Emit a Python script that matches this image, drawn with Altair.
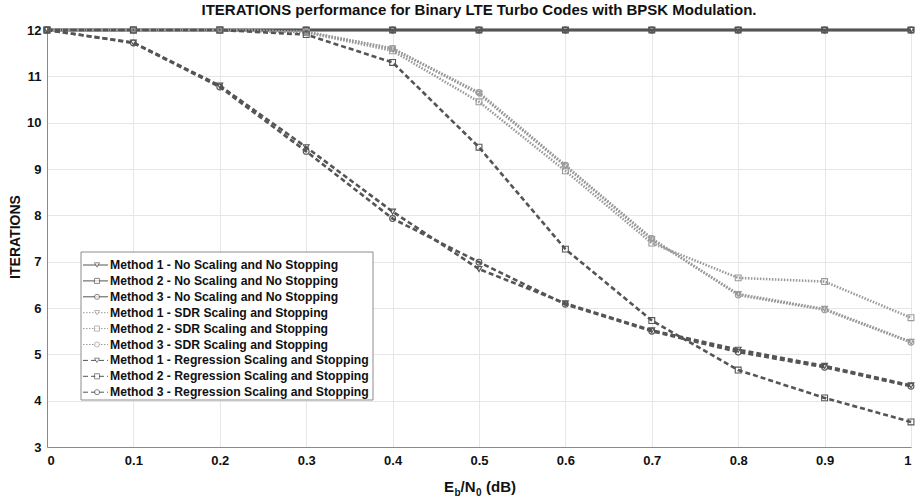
import altair as alt
import pandas as pd

# ---------------- data ----------------
ebn0 = [0.0, 0.1, 0.2, 0.3, 0.4, 0.5, 0.6, 0.7, 0.8, 0.9, 1.0]

series_names = [
    "Method 1 - No Scaling and No Stopping",
    "Method 2 - No Scaling and No Stopping",
    "Method 3 - No Scaling and No Stopping",
    "Method 1 - SDR Scaling and Stopping",
    "Method 2 - SDR Scaling and Stopping",
    "Method 3 - SDR Scaling and Stopping",
    "Method 1 - Regression Scaling and Stopping",
    "Method 2 - Regression Scaling and Stopping",
    "Method 3 - Regression Scaling and Stopping",
]

m1_none = [12, 12, 12, 12, 12, 12, 12, 12, 12, 12, 12]
m2_none = [12, 12, 12, 12, 12, 12, 12, 12, 12, 12, 12]
m3_none = [12, 12, 12, 12, 12, 12, 12, 12, 12, 12, 12]
m1_sdr = [12, 12, 12, 11.96, 11.6, 10.62, 9.06, 7.48, 6.3, 5.98, 5.27]
m2_sdr = [12, 12, 12, 11.95, 11.55, 10.45, 8.96, 7.4, 6.65, 6.57, 5.79]
m3_sdr = [12, 12, 12, 11.96, 11.6, 10.65, 9.08, 7.5, 6.28, 5.96, 5.26]
m1_reg = [12, 11.73, 10.8, 9.47, 8.08, 6.84, 6.1, 5.52, 5.1, 4.75, 4.33]
m2_reg = [12, 12, 12, 11.9, 11.3, 9.47, 7.27, 5.73, 4.66, 4.06, 3.54]
m3_reg = [12, 11.72, 10.77, 9.38, 7.93, 6.99, 6.08, 5.5, 5.05, 4.72, 4.31]

all_series = [m1_none, m2_none, m3_none, m1_sdr, m2_sdr, m3_sdr, m1_reg, m2_reg, m3_reg]

rows = []
for k, (name, vals) in enumerate(zip(series_names, all_series)):
    for xv, yv in zip(ebn0, vals):
        rows.append({"series": name, "k": k, "x": xv, "y": yv})
df = pd.DataFrame(rows)

x_ticks = [0.0, 0.1, 0.2, 0.3, 0.4, 0.5, 0.6, 0.7, 0.8, 0.9, 1.0]
y_ticks = [3, 4, 5, 6, 7, 8, 9, 10, 11, 12]

title_text = "ITERATIONS performance for Binary LTE Turbo Codes with BPSK Modulation."

# ---------------- styles ----------------
FONT = "Liberation Sans"
DARK = "#555555"
LIGHT = "#9a9a9a"
color_scale = alt.Scale(domain=series_names,
                        range=[DARK, DARK, DARK, LIGHT, LIGHT, LIGHT, DARK, DARK, DARK])
dash_scale = alt.Scale(domain=series_names,
                       range=[[1, 0]] * 3 + [[1.5, 1.5]] * 3 + [[5, 3]] * 3)
width_scale = alt.Scale(domain=series_names,
                        range=[2.6] * 3 + [1.1] * 3 + [1.6] * 3)
shape_scale = alt.Scale(domain=series_names,
                        range=["triangle-down", "square", "circle"] * 3)

W, H = 864, 417

x_enc = alt.X("x:Q", scale=alt.Scale(domain=[0, 1], nice=False),
              axis=alt.Axis(values=x_ticks, format=".1~f", title=None, grid=True,
                            ticks=False, labelFont=FONT, labelFontSize=13,
                            labelFontWeight="bold", labelColor="#111",
                            labelPadding=7, domainColor="#8a8a8a",
                            gridColor="#e6e6e6"))
y_enc = alt.Y("y:Q", scale=alt.Scale(domain=[3, 12], nice=False),
              axis=alt.Axis(values=y_ticks, title="ITERATIONS", grid=True,
                            ticks=False, labelFont=FONT, labelFontSize=13,
                            labelFontWeight="bold", labelColor="#111",
                            labelPadding=6, domainColor="#8a8a8a",
                            gridColor="#e6e6e6", titleFont=FONT,
                            titleFontSize=14, titleFontWeight="bold",
                            titleColor="#111", titleX=-32, titleY=H / 2 - 2,
                            titleAngle=-90, titleAlign="center",
                            titleBaseline="middle"))

base = alt.Chart(df)
lines = base.mark_line(clip=False).encode(
    x=x_enc, y=y_enc,
    detail="series:N",
    color=alt.Color("series:N", scale=color_scale, legend=None),
    strokeDash=alt.StrokeDash("series:N", scale=dash_scale, legend=None),
    strokeWidth=alt.StrokeWidth("series:N", scale=width_scale, legend=None),
    order="x:Q",
)
points = base.mark_point(filled=False, size=34, strokeWidth=1.1, opacity=1).encode(
    x=alt.X("x:Q"), y=alt.Y("y:Q"),
    shape=alt.Shape("series:N", scale=shape_scale, legend=None),
    color=alt.Color("series:N", scale=color_scale, legend=None),
)
data_layer = alt.layer(lines, points)

# ---------------- legend (drawn manually) ----------------
leg_df = pd.DataFrame({"series": series_names, "i": list(range(len(series_names)))})
leg = alt.Chart(leg_df).transform_calculate(py="235 + datum.i * 15.9")
box = alt.Chart(pd.DataFrame({"k": [0]})).mark_rect(
    fill="white", stroke="#8c8c8c", strokeWidth=1
).encode(x=alt.value(34), x2=alt.value(326), y=alt.value(222), y2=alt.value(370))
leg_y = alt.Y("py:Q", scale=None, axis=None)
leg_rule = leg.mark_rule().encode(
    x=alt.value(36), x2=alt.value(61), y=leg_y,
    color=alt.Color("series:N", scale=color_scale, legend=None),
    strokeDash=alt.StrokeDash("series:N", scale=dash_scale, legend=None),
)
leg_pt = leg.mark_point(filled=True, fill="white", size=26, strokeWidth=1).encode(
    x=alt.value(50), y=leg_y,
    shape=alt.Shape("series:N", scale=shape_scale, legend=None),
    stroke=alt.Stroke("series:N", scale=color_scale, legend=None),
)
leg_txt = leg.mark_text(align="left", baseline="middle", font=FONT,
                        fontSize=12.2, fontWeight="bold", color="#111").encode(
    x=alt.value(63), y=leg_y, text="series:N"
)

# ---------------- x axis title with subscripts ----------------
one = pd.DataFrame({"k": [0]})
def piece(txt, xp, yp, size):
    return alt.Chart(one).mark_text(text=txt, align="left", baseline="alphabetic",
                                    font=FONT, fontSize=size, fontWeight="bold",
                                    color="#111").encode(x=alt.value(xp), y=alt.value(yp))

xt = [
    piece("E", 397, 462, 15),
    piece("b", 407.5, 466, 10),
    piece("/N", 413.5, 462, 15),
    piece("0", 429, 466, 10),
    piece("(dB)", 439, 462, 15),
]

chart = alt.layer(data_layer, box, leg_rule, leg_pt, leg_txt, *xt).resolve_scale(
    y="independent"
).properties(
    width=W, height=H,
    title=alt.TitleParams(title_text, font=FONT, fontSize=15, fontWeight="bold",
                          color="#111", anchor="middle", offset=6),
    autosize=alt.AutoSizeParams(type="none"),
    padding={"left": 47, "top": 30, "right": 8, "bottom": 51},
).configure_view(stroke="#8a8a8a", strokeWidth=1).configure(background="white")

chart.save("out.html", embed_options={"renderer": "svg", "actions": False})
